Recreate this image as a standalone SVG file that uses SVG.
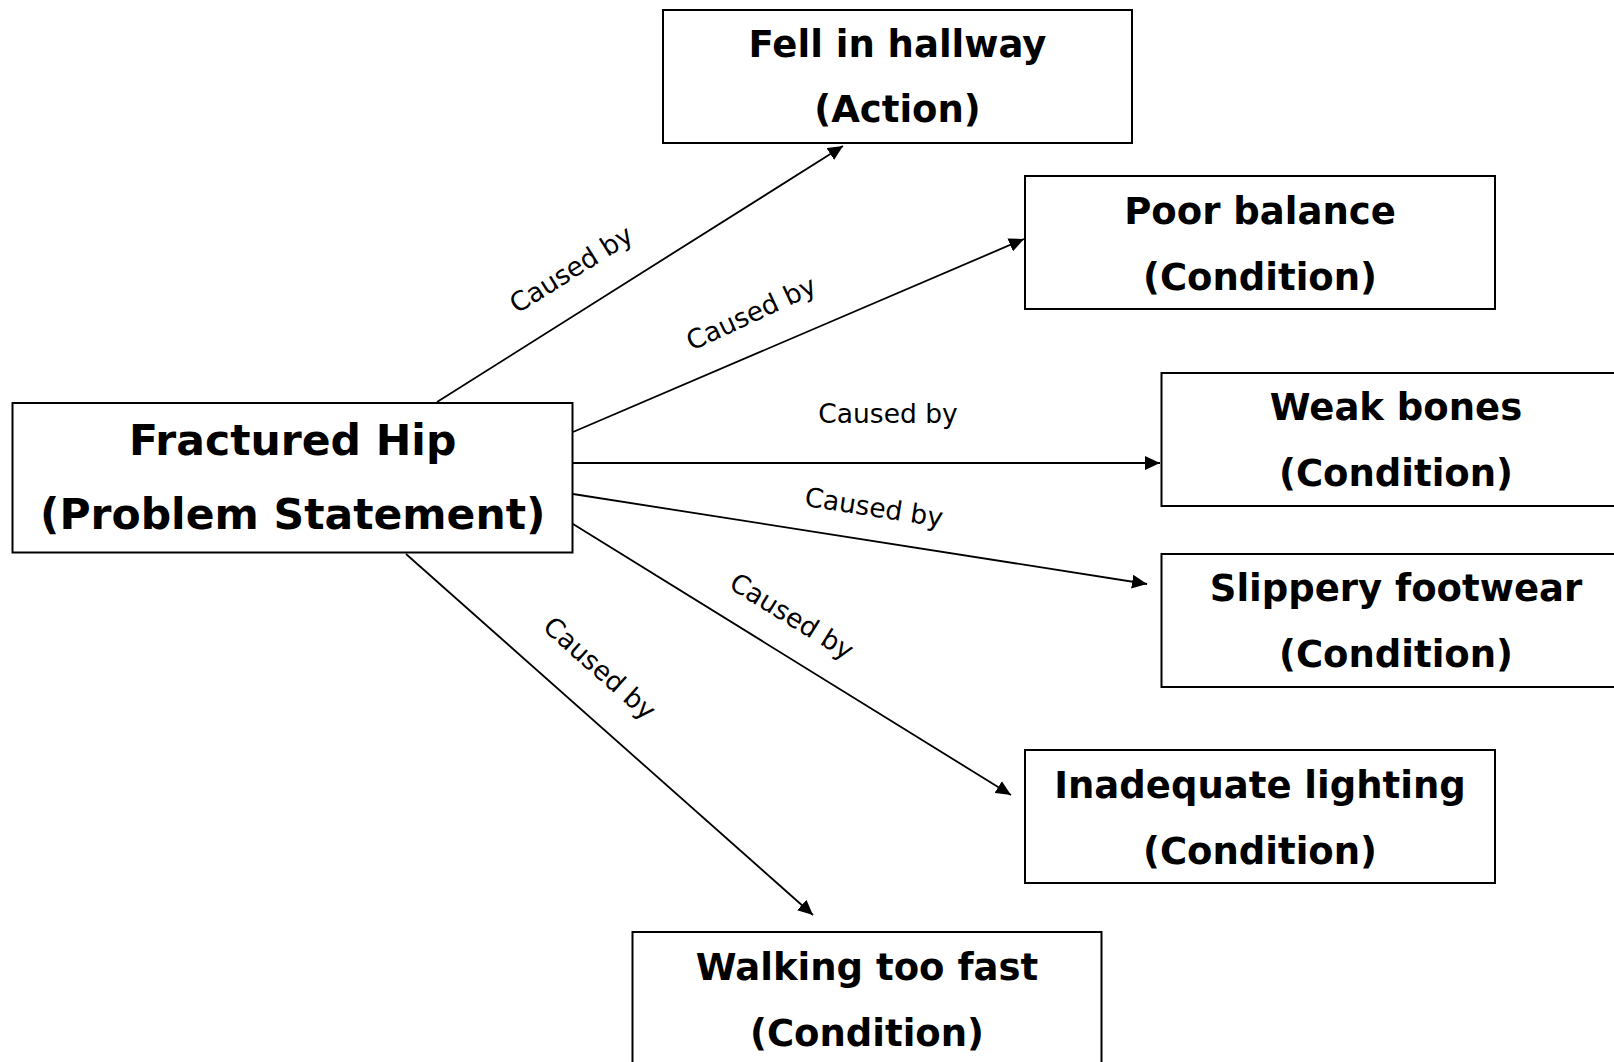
<svg xmlns="http://www.w3.org/2000/svg" width="1614" height="1062" viewBox="0 0 1614 1062">
<style>
.box{fill:#fff;stroke:#000;stroke-width:2}
.nt{font-family:"DejaVu Sans","Verdana",sans-serif;font-weight:bold;font-size:37px;text-anchor:middle;fill:#000}
.big{font-size:42.5px}
.edge{stroke:#000;stroke-width:1.8;fill:none;marker-end:url(#arr)}
.lbl{font-family:"DejaVu Sans","Verdana",sans-serif;font-size:26.5px;text-anchor:middle;fill:#000}
</style>
<defs>
<marker id="arr" markerWidth="16" markerHeight="14" refX="15" refY="7" orient="auto" markerUnits="userSpaceOnUse">
<path d="M0,0 L15,7 L0,14 z" fill="#000"/>
</marker>
</defs>
<rect width="1614" height="1062" fill="#fff"/>
<g id="connectors">
<line class="edge" x1="437" y1="402" x2="843" y2="146"/>
<line class="edge" x1="573" y1="432" x2="1024" y2="239"/>
<line class="edge" x1="573" y1="463" x2="1160" y2="463"/>
<line class="edge" x1="573" y1="494" x2="1147" y2="584"/>
<line class="edge" x1="573" y1="524" x2="1011" y2="795"/>
<line class="edge" x1="406" y1="554" x2="813" y2="915"/>
<text class="lbl" transform="translate(571,269) rotate(-32.1)" dominant-baseline="central">Caused by</text>
<text class="lbl" transform="translate(751,313) rotate(-25)" dominant-baseline="central">Caused by</text>
<text class="lbl" x="888" y="423">Caused by</text>
<text class="lbl" transform="translate(874,507) rotate(8.8)" dominant-baseline="central">Caused by</text>
<text class="lbl" transform="translate(792,616) rotate(31.7)" dominant-baseline="central">Caused by</text>
<text class="lbl" transform="translate(600,668) rotate(41.6)" dominant-baseline="central">Caused by</text>
</g>
<g id="fractured-hip">
<rect class="box" x="12.5" y="403" width="560" height="149.5"/>
<text class="nt big" x="292.7" y="455">Fractured Hip</text>
<text class="nt big" x="292.7" y="529">(Problem Statement)</text>
</g>
<g id="fell-in-hallway">
<rect class="box" x="663" y="10" width="469" height="133"/>
<text class="nt" x="897.5" y="57">Fell in hallway</text>
<text class="nt" x="897.5" y="122">(Action)</text>
</g>
<g id="poor-balance">
<rect class="box" x="1025" y="176" width="470" height="133"/>
<text class="nt" x="1260" y="224">Poor balance</text>
<text class="nt" x="1260" y="290">(Condition)</text>
</g>
<g id="weak-bones">
<rect class="box" x="1161.5" y="373" width="470" height="133"/>
<text class="nt" x="1396" y="420">Weak bones</text>
<text class="nt" x="1396" y="486">(Condition)</text>
</g>
<g id="slippery-footwear">
<rect class="box" x="1161.5" y="554" width="470" height="133"/>
<text class="nt" x="1396" y="601">Slippery footwear</text>
<text class="nt" x="1396" y="667">(Condition)</text>
</g>
<g id="inadequate-lighting">
<rect class="box" x="1025" y="750" width="470" height="133"/>
<text class="nt" x="1260" y="798">Inadequate lighting</text>
<text class="nt" x="1260" y="864">(Condition)</text>
</g>
<g id="walking-too-fast">
<rect class="box" x="632.5" y="932" width="469" height="140"/>
<text class="nt" x="867" y="980">Walking too fast</text>
<text class="nt" x="867" y="1046">(Condition)</text>
</g>
</svg>
